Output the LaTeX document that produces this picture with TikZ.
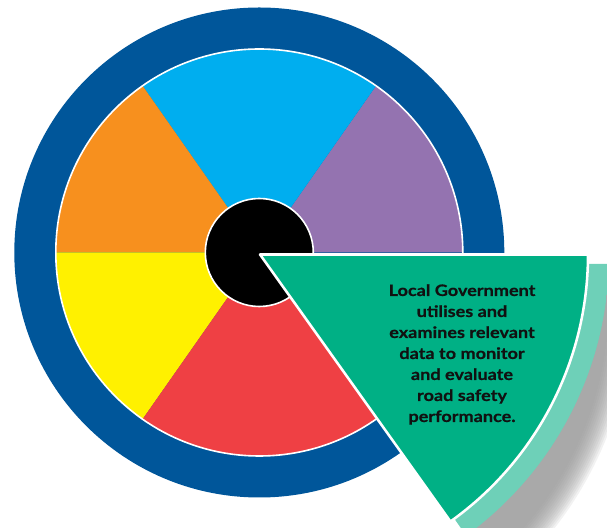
\documentclass[tikz,border=0pt]{standalone}
\usepackage{fontspec}
\setmainfont{Lato}[FakeStretch=1.15, BoldFeatures={FakeBold=0.6}]
\definecolor{ringblue}{HTML}{00569A}
\definecolor{segblue}{HTML}{00AEEF}
\definecolor{segpurple}{HTML}{9473B0}
\definecolor{segorange}{HTML}{F7901E}
\definecolor{segyellow}{HTML}{FFF100}
\definecolor{segred}{HTML}{EF4044}
\definecolor{seggreen}{HTML}{00B085}
\definecolor{segteal}{HTML}{6ED0B8}
\definecolor{shadowgray}{HTML}{959595}
\definecolor{textdark}{HTML}{111111}
\tikzset{
  whiteedge/.style={draw=white, line width=1.2pt},
  greenedge/.style={draw=white, line width=1.9pt, line join=round},
  labeltext/.style={font=\bfseries\fontsize{11.8}{15.75}\selectfont, text=textdark, align=center, inner sep=0pt},
}
\begin{document}
\begin{tikzpicture}[x=0.75pt,y=0.75pt]
\useasboundingbox (0,0) rectangle (607,528);
\clip (0,0) rectangle (607,528);
\coordinate (C) at (259.3,275.5);
\coordinate (G) at (260,273.5);
\coordinate (T) at (276,264);
\coordinate (TC) at (262,273);
\coordinate (S) at (296,238);
\coordinate (SC) at (262,228);
% outer ring
\fill[ringblue] (C) circle (245);
% pie sectors
\fill[segpurple] (C) -- ++(0:203.5) arc (0:55:203.5) -- cycle;
\fill[segblue] (C) -- ++(55:203.5) arc (55:125:203.5) -- cycle;
\fill[segorange] (C) -- ++(125:203.5) arc (125:180:203.5) -- cycle;
\fill[segyellow] (C) -- ++(180:203.5) arc (180:235:203.5) -- cycle;
\fill[segred] (C) -- ++(235:203.5) arc (235:305:203.5) -- cycle;
\draw[whiteedge] (C) circle (203.5);
% hub
\filldraw[fill=black, whiteedge] (C) circle (54);
% soft shadow of the exploded slice
\begin{scope}
  \clip (S) -- ++(0:460) arc (0:-55:460) -- cycle;
  \foreach \r in {347,349,...,371}
    \fill[shadowgray, opacity=0.12] (SC) circle (\r);
\end{scope}
% teal backing
\begin{scope}
  \clip (TC) circle (347);
  \fill[segteal] (T) -- ++(0:420) arc (0:-55:420) -- cycle;
\end{scope}
% exploded green slice
\filldraw[fill=seggreen, greenedge] (G) -- ++(0:328) arc (0:-54.5:328) -- cycle;
\node[labeltext, anchor=north] (label) at (462,244)
  {Local Government\\utilises and\\examines relevant\\data to monitor\\and evaluate\\road safety\\performance.};
\end{tikzpicture}
\end{document}
